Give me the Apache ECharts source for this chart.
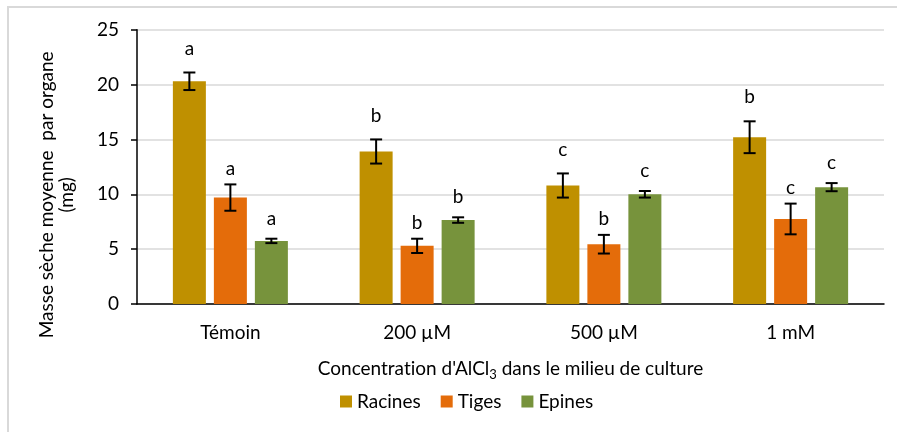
<!DOCTYPE html>
<html>
<head>
<meta charset="utf-8">
<script src="https://cdn.jsdelivr.net/npm/echarts@6/dist/echarts.min.js"></script>
<style>
  html, body { margin: 0; padding: 0; background: #fff; }
  #chart { width: 897px; height: 432px; }
</style>
</head>
<body>
<div id="chart"></div>
<script>
// Dry mass per organ (mg) under increasing AlCl3 concentrations
const categories = ['Témoin', '200 µM', '500 µM', '1 mM'];
const seriesNames = ['Racines', 'Tiges', 'Epines'];

const racines = [20.3, 13.9, 10.8, 15.2];
const tiges = [9.7, 5.3, 5.45, 7.75];
const epines = [5.75, 7.65, 10.0, 10.65];

const racinesErr = [0.8, 1.1, 1.1, 1.45];
const tigesErr = [1.2, 0.65, 0.85, 1.4];
const epinesErr = [0.2, 0.25, 0.3, 0.37];

// Significance letters
const racinesLetters = ['a', 'b', 'c', 'b'];
const tigesLetters = ['a', 'b', 'b', 'c'];
const epinesLetters = ['a', 'b', 'c', 'c'];

const yTicks = [0, 5, 10, 15, 20, 25];

const colors = ['#BF9000', '#E46C0A', '#77933C'];
const FONT = 'Lato, "Open Sans", sans-serif';
const FS = 19;
const BAR_W = 33;
const BAR_GAP = 8;
const letterGap = [24, 16, 20];

const values = [racines, tiges, epines];
const errors = [racinesErr, tigesErr, epinesErr];
const letters = [racinesLetters, tigesLetters, epinesLetters];

const chart = echarts.init(document.getElementById('chart'), null, { renderer: 'canvas' });

function errorSeries(si) {
  const data = categories.map((c, i) => [i, values[si][i], errors[si][i], letters[si][i]]);
  return {
    type: 'custom',
    name: seriesNames[si] + '-err',
    z: 10,
    silent: true,
    legendHoverLink: false,
    data: data,
    encode: { x: 0, y: 1 },
    renderItem: function (params, api) {
      const idx = api.value(0);
      const v = api.value(1);
      const e = api.value(2);
      const base = api.coord([idx, v]);
      const x = base[0] + (si - 1) * (BAR_W + BAR_GAP);
      const yHi = api.coord([idx, v + e])[1];
      const yLo = api.coord([idx, v - e])[1];
      const cap = 6;
      const style = { stroke: '#000', lineWidth: 2 };
      return {
        type: 'group',
        children: [
          { type: 'line', shape: { x1: x, y1: yHi, x2: x, y2: yLo }, style: style },
          { type: 'line', shape: { x1: x - cap, y1: yHi, x2: x + cap, y2: yHi }, style: style },
          { type: 'line', shape: { x1: x - cap, y1: yLo, x2: x + cap, y2: yLo }, style: style },
          {
            type: 'text',
            style: {
              text: data[params.dataIndex][3],
              x: x,
              y: yHi - letterGap[si],
              align: 'center',
              verticalAlign: 'middle',
              fill: '#000',
              font: FS + 'px ' + FONT
            }
          }
        ]
      };
    }
  };
}

const barSeries = seriesNames.map((name, si) => ({
  type: 'bar',
  name: name,
  data: values[si],
  barWidth: BAR_W,
  barGap: (BAR_GAP / BAR_W * 100) + '%',
  itemStyle: { color: colors[si] },
  emphasis: { disabled: true }
}));

chart.setOption({
  animation: false,
  backgroundColor: '#fff',
  textStyle: { fontFamily: FONT },
  graphic: [{
    type: 'rect',
    shape: { x: 8, y: 7, width: 900, height: 440 },
    style: { fill: 'none', stroke: '#d9d9d9', lineWidth: 2 },
    silent: true
  }],
  grid: { left: 137, right: 13, top: 29.7, bottom: 128, containLabel: false, outerBoundsMode: 'none' },
  legend: {
    data: seriesNames,
    top: 387,
    left: 335,
    itemWidth: 12,
    itemHeight: 12,
    itemGap: 20,
    icon: 'rect',
    textStyle: { fontSize: FS, color: '#000', fontFamily: FONT }
  },
  xAxis: {
    type: 'category',
    data: categories,
    name: '{t|Concentrat\u200Cion d\'AlCl}{s|3}{t| dans le milieu de culture}',
    nameLocation: 'middle',
    nameGap: 52,
    nameTextStyle: {
      rich: {
        t: { fontSize: FS, color: '#000', fontFamily: FONT },
        s: { fontSize: 13, color: '#000', fontFamily: FONT, padding: [12, 0, 0, 0] }
      }
    },
    axisLine: { lineStyle: { color: '#000', width: 1.5 } },
    axisTick: { show: false },
    axisLabel: { fontSize: FS, color: '#000', margin: 19, fontFamily: FONT }
  },
  yAxis: {
    type: 'value',
    min: yTicks[0],
    max: yTicks[yTicks.length - 1],
    interval: yTicks[1] - yTicks[0],
    name: 'Masse sèche moyenne  par organe\n(mg)',
    nameLocation: 'middle',
    nameGap: 60,
    nameTextStyle: { fontSize: FS, color: '#000', lineHeight: 20, fontFamily: FONT, padding: [0, 56, 0, 0] },
    axisLine: { show: true, lineStyle: { color: '#000', width: 1.5 } },
    axisTick: { show: true, length: 6, lineStyle: { color: '#000', width: 1.5 } },
    axisLabel: { fontSize: FS, color: '#000', margin: 18, fontFamily: FONT },
    splitLine: { lineStyle: { color: '#d9d9d9', width: 1.5 } }
  },
  series: barSeries.concat([0, 1, 2].map(errorSeries))
});
</script>
</body>
</html>
